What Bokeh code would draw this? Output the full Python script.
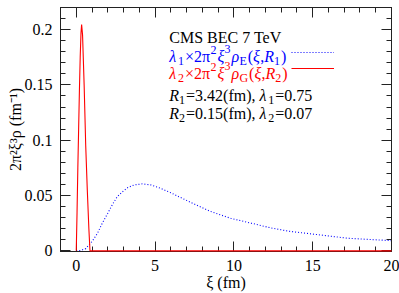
from bokeh.plotting import figure
from bokeh.models import Range1d, FixedTicker, LinearAxis, Label, Legend, LegendItem
from bokeh.embed import file_html
from bokeh.resources import INLINE

# ---- data ----
xi_E = [0.0, 0.3, 0.6, 1.0, 1.35, 1.65, 2.0, 2.3, 2.6, 2.9, 3.25, 3.65, 4.2, 4.75, 5.35,
        6.0, 6.5, 7.25, 8.5, 9.8, 11.1, 12.35, 13.5, 15.1, 17.2, 20.0]
rho_E = [0.0, 0.0004, 0.002, 0.0084, 0.016, 0.025, 0.034, 0.042, 0.049, 0.053, 0.057, 0.0595,
         0.0606, 0.0595, 0.0565, 0.0525, 0.049, 0.0439, 0.0357, 0.0294, 0.025, 0.0207, 0.0177,
         0.015, 0.0114, 0.0092]

xi_G = [0.0, 0.05, 0.1, 0.15, 0.2, 0.25, 0.3, 0.34, 0.4, 0.5, 0.6, 0.7, 0.8, 0.87, 1.0, 20.0]
rho_G = [0.0, 0.035, 0.075, 0.11, 0.145, 0.175, 0.197, 0.2045, 0.195, 0.15, 0.095, 0.055,
         0.02, 0.0, 0.0, 0.0]

x_ticks = [0, 5, 10, 15, 20]
x_tick_labels = ["0", "5", "10", "15", "20"]
x_minor = list(range(-1, 21))
y_ticks = [0, 0.05, 0.1, 0.15, 0.2]
y_tick_labels = ["0", "0.05", "0.1", "0.15", "0.2"]
y_minor = [i / 100 for i in range(0, 23)]

FONT = "Liberation Serif"

p = figure(frame_width=331, frame_height=244,
           x_range=Range1d(-1, 20), y_range=Range1d(-0.0006, 0.22),
           output_backend="svg", toolbar_location=None,
           min_border_left=60, min_border_right=8, min_border_top=7, min_border_bottom=0)
p.grid.visible = False
p.outline_line_color = "black"
p.outline_line_width = 1
p.background_fill_color = "white"
p.border_fill_color = "white"

xt = FixedTicker(ticks=x_ticks, minor_ticks=x_minor)
yt = FixedTicker(ticks=y_ticks, minor_ticks=y_minor)

def style_axis(ax, labels=True):
    ax.major_tick_in = 10
    ax.major_tick_out = 0
    ax.minor_tick_in = 5
    ax.minor_tick_out = 0
    ax.axis_line_color = "#222222"
    ax.major_tick_line_color = "#222222"
    ax.minor_tick_line_color = "#222222"
    ax.major_label_text_font = FONT
    ax.axis_label_text_font = FONT
    ax.axis_label_text_font_style = "normal"
    ax.axis_label_text_font_size = "16px"
    ax.axis_label_text_color = "black"
    if labels:
        ax.major_label_text_font_size = "16px"
        ax.major_label_text_color = "black"
    else:
        ax.major_label_text_font_size = "0px"
        ax.major_label_text_color = None
        ax.major_label_standoff = 0

xa = p.xaxis[0]
xa.ticker = xt
xa.major_label_overrides = {t: l for t, l in zip(x_ticks, x_tick_labels)}
style_axis(xa)
xa.major_label_standoff = 8
xa.axis_label = "ξ (fm)"
xa.axis_label_standoff = 0

ya = p.yaxis[0]
ya.ticker = yt
ya.major_label_overrides = {t: l for t, l in zip(y_ticks, y_tick_labels)}
style_axis(ya)
ya.major_label_standoff = 8
ya.axis_label = "2π²ξ³ρ (fm⁻¹)"
ya.axis_label_standoff = -2

top = LinearAxis(ticker=xt)
style_axis(top, labels=False)
p.add_layout(top, "above")
right = LinearAxis(ticker=yt)
style_axis(right, labels=False)
p.add_layout(right, "right")

rb = p.line(xi_E, rho_E, line_color="#0000ff", line_width=1.1, line_dash="1 2")
rr = p.line(xi_G, rho_G, line_color="#ff0000", line_width=1.1, level="overlay")

legend = Legend(items=[LegendItem(label=" ", renderers=[rb]), LegendItem(label=" ", renderers=[rr])],
                location=(231, 175), orientation="vertical",
                glyph_width=43, glyph_height=16, label_width=0, label_height=16,
                label_standoff=0, spacing=0, padding=0, margin=0,
                border_line_alpha=0, background_fill_alpha=0,
                label_text_font_size="1px", label_text_color=None, inactive_fill_alpha=0)
p.add_layout(legend)

# ---- text block (runs of normal / sub / superscript text) ----
W = {'0': .5, '1': .5, '2': .5, '3': .5, '4': .5, '5': .5, '6': .5, '7': .5, '8': .5, '9': .5,
     '.': .25, ',': .25, '(': .333, ')': .333, '=': .564, '×': .564, ' ': .25, 'f': .333,
     'm': .778, 'E': .611, 'G': .722, 'R': .611, 'λ': .54, 'ξ': .44, 'ρ': .5, 'π': .53}

def width(s, size):
    return sum(W.get(c, .5) for c in s) * size

AX, AY = 5.9, 0.22  # anchor: text column start, frame top

def line_runs(runs, base, color):
    xo = 0.0
    for text, style, size, dy in runs:
        p.add_layout(Label(x=AX, y=AY, x_offset=xo, y_offset=-base + dy, text=text,
                           text_font=FONT, text_font_size=f"{size}px", text_font_style=style,
                           text_color=color, text_baseline="alphabetic", text_align="left"))
        xo += width(text, size) + (1 if size < 16 else 0)

S, SS = 16, 12
line_runs([("CMS BEC 7 TeV", "normal", S, 0)], 30, "black")
line_runs([("λ", "italic", S, 0), ("1", "normal", SS, -4), ("×2π", "normal", S, 0),
           ("2", "normal", SS, 7), ("ξ", "italic", S, 0), ("3", "normal", SS, 8),
           ("ρ", "italic", S, 0), ("E", "normal", SS, -4), ("(", "normal", S, 0),
           ("ξ", "italic", S, 0), (",", "normal", S, 0), ("R", "italic", S, 0),
           ("1", "normal", SS, -4), (")", "normal", S, 0)], 49, "#0000ff")
line_runs([("λ", "italic", S, 0), ("2", "normal", SS, -4), ("×2π", "normal", S, 0),
           ("2", "normal", SS, 7), ("ξ", "italic", S, 0), ("3", "normal", SS, 8),
           ("ρ", "italic", S, 0), ("G", "normal", SS, -4), ("(", "normal", S, 0),
           ("ξ", "italic", S, 0), (",", "normal", S, 0), ("R", "italic", S, 0),
           ("2", "normal", SS, -4), (")", "normal", S, 0)], 66, "#ff0000")
line_runs([("R", "italic", S, 0), ("1", "normal", SS, -4), ("=3.42(fm), ", "normal", S, 0),
           ("λ", "italic", S, 0), ("1", "normal", SS, -4), ("=0.75", "normal", S, 0)], 88, "black")
line_runs([("R", "italic", S, 0), ("2", "normal", SS, -4), ("=0.15(fm), ", "normal", S, 0),
           ("λ", "italic", S, 0), ("2", "normal", SS, -4), ("=0.07", "normal", S, 0)], 106, "black")

open("out.html", "w").write(file_html(p, INLINE))
